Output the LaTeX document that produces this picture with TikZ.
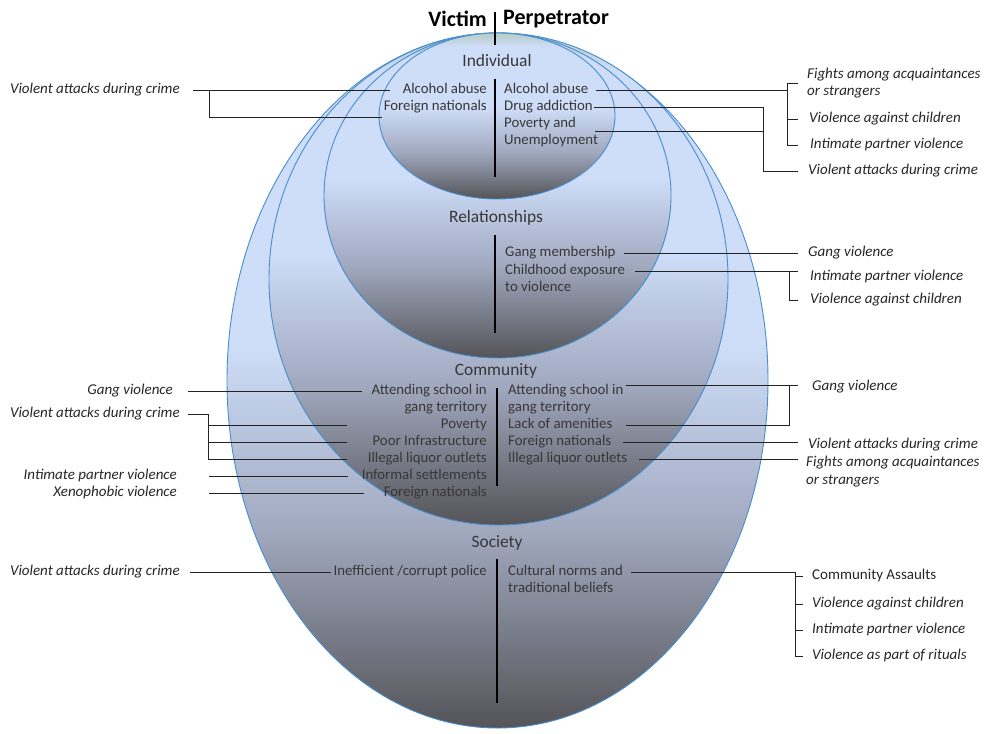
\documentclass[tikz,border=0pt]{standalone}
\usepackage{fontspec}
\setmainfont{Carlito}
\definecolor{sagetop}{RGB}{182,204,198}
\definecolor{skyfill}{RGB}{206,221,248}
\definecolor{midgrey}{RGB}{160,168,190}
\definecolor{deepgrey}{RGB}{84,84,88}
\definecolor{ringblue}{RGB}{70,142,205}
\definecolor{inkgrey}{RGB}{55,55,55}
\definecolor{wiregrey}{RGB}{35,35,35}
\pgfdeclareverticalshading{levelshade}{100bp}{color(0bp)=(deepgrey); color(25bp)=(deepgrey);
  color(39bp)=(midgrey); color(52.5bp)=(skyfill); color(71bp)=(skyfill);
  color(75bp)=(sagetop); color(100bp)=(sagetop)}
\newcommand{\causefont}{\fontsize{14.8}{17}\selectfont}
\newcommand{\harmfont}{\fontsize{15}{18}\selectfont\itshape}
\newcommand{\levelfont}{\fontsize{17.4}{20}\selectfont}
\newcommand{\headfont}{\fontsize{22}{26}\selectfont\bfseries}
\tikzset{
  layer/.style={draw=ringblue, line width=0.9pt, shading=levelshade},
  cause/.style={font=\causefont, text=inkgrey, inner sep=0pt,
    text height=10.5pt, text depth=3.2pt},
  victim/.style={cause, anchor=east},
  perp/.style={cause, anchor=west},
  harm/.style={font=\harmfont, text=black!85, inner sep=0pt,
    text height=10.5pt, text depth=3.2pt, anchor=west},
  harmleft/.style={harm, anchor=east},
  level/.style={font=\levelfont, text=inkgrey, inner sep=0pt},
  split/.style={line width=2.6pt, black},
  wire/.style={line width=0.8pt, draw=wiregrey},
}
\begin{document}
\begin{tikzpicture}[x=1pt, y=-1pt]
    \useasboundingbox (0,0) rectangle (984,733);
    %% NOTE:
    %% nested levels, outermost first
    \draw[layer] (497.5,380.5) ellipse (270.5pt and 347.5pt);
    \draw[layer] (498.5,279) ellipse (229.5pt and 246pt);
    \draw[layer] (497.5,195.5) ellipse (173.5pt and 162.5pt);
    \draw[layer] (497,116) ellipse (118pt and 83pt);
    %% header
    \node[font=\headfont, inner sep=0pt, anchor=east] (victim) at (487,19) {Victim};
    \node[font=\headfont, inner sep=0pt, anchor=west] (perpetrator) at (503,19) {Perpetrator};
    %% level names
    \node[level] (individual) at (497,61) {Individual};
    \node[level] (relationships) at (496,218) {Relationships};
    \node[level] (community) at (496,371) {Community};
    \node[level] (society) at (497,543) {Society};
    %% dividers
    \draw[split] (495,12) -- (495,45);
    \draw[split] (495,79) -- (495,177);
    \draw[split] (495,235) -- (495,333);
    \draw[split] (497,388) -- (497,486);
    \draw[split] (497,559) -- (497,703);
    %% columns for ticks and brackets
    \coordinate (tickR) at (798,0);
    \coordinate (spineA) at (209,0);
    \coordinate (spineB) at (787,0);
    \coordinate (spineC) at (763,0);
    \coordinate (spineD) at (789,0);
    \coordinate (spineE) at (208,0);
    \coordinate (reachE) at (347,0);
    \coordinate (spineG) at (795,0);

    %% individual
    \node[victim] (vInd1) at (487,90) {Alcohol abuse};
    \node[victim] (vInd2) at (487,107) {Foreign nationals};
    \node[perp] (pInd1) at (504,90) {Alcohol abuse};
    \node[perp] (pInd2) at (504,107) {Drug addiction};
    \node[perp] (pInd3) at (504,124) {Poverty and};
    \node[perp] (pInd3b) at (504,141) {Unemployment};
    \node[harmleft] (hInd0) at (180,90) {Violent attacks during crime};
    \node[harm] (hInd1) at (807,75) {Fights among acquaintances};
    \node[harm] (hInd1b) at (807,92) {or strangers};
    \node[harm] (hInd2) at (809,119) {Violence against children};
    \node[harm] (hInd3) at (810,145) {Intimate partner violence};
    \node[harm] (hInd4) at (808,171) {Violent attacks during crime};
    \draw[wire] ([xshift=13pt]hInd0.east) -- ([xshift=-13pt]vInd1.west);
    \draw[wire] (spineA |- hInd0.east) |- ([xshift=-2pt,yshift=-10pt]vInd2.west);
    \draw[wire] ([xshift=8pt]pInd1.east) -- (spineB |- pInd1.east);
    \draw[wire] ([xshift=-9pt,yshift=-8.5pt]hInd1.west) -| (spineB |- hInd3.west) -- ([xshift=-12pt]hInd3.west);
    \draw[wire] (spineB |- hInd2.west) -- ([xshift=-11pt]hInd2.west);
    \draw[wire] ([xshift=1pt]pInd2.east) -| (spineC |- hInd4.west) -- ([xshift=-10pt]hInd4.west);
    \draw[wire] ([xshift=-3pt,yshift=10pt]pInd3b.east) -| (spineC |- pInd2.east);

    %% relationships
    \node[perp] (pRel1) at (505,253) {Gang membership};
    \node[perp] (pRel2) at (505,271) {Childhood exposure};
    \node[perp] (pRel3) at (505,288) {to violence};
    \node[harm] (hRel1) at (808,253) {Gang violence};
    \node[harm] (hRel2) at (810,277) {Intimate partner violence};
    \node[harm] (hRel3) at (810,300) {Violence against children};
    \draw[wire] ([xshift=8pt]pRel1.east) -- (tickR |- pRel1.east);
    \draw[wire] ([xshift=10pt]pRel2.east) -- (tickR |- pRel2.east);
    \draw[wire] (spineD |- pRel2.east) |- ([xshift=-12pt]hRel3.west);

    %% community
    \node[victim] (vCom1) at (487,391) {Attending school in};
    \node[victim] (vCom1b) at (487,408) {gang territory};
    \node[victim] (vCom2) at (487,425) {Poverty};
    \node[victim] (vCom3) at (487,442) {Poor Infrastructure};
    \node[victim] (vCom4) at (487,459) {Illegal liquor outlets};
    \node[victim] (vCom5) at (487,476) {Informal settlements};
    \node[victim] (vCom6) at (487,493) {Foreign nationals};
    \node[perp] (pCom1) at (508,391) {Attending school in};
    \node[perp] (pCom1b) at (508,408) {gang territory};
    \node[perp] (pCom2) at (508,425) {Lack of amenities};
    \node[perp] (pCom3) at (508,442) {Foreign nationals};
    \node[perp] (pCom4) at (508,459) {Illegal liquor outlets};
    \node[harmleft] (hCom1) at (173,391) {Gang violence};
    \node[harmleft] (hCom2) at (180,414) {Violent attacks during crime};
    \node[harmleft] (hCom3) at (177,476) {Intimate partner violence};
    \node[harmleft] (hCom4) at (177,493) {Xenophobic violence};
    \node[harm] (hCom5) at (812,387) {Gang violence};
    \node[harm] (hCom6) at (808,445) {Violent attacks during crime};
    \node[harm] (hCom7) at (806,463) {Fights among acquaintances};
    \node[harm] (hCom7b) at (806,481) {or strangers};
    \draw[wire] ([xshift=15pt]hCom1.east) -- ([xshift=-9pt]vCom1.west);
    \draw[wire] ([xshift=8pt]hCom2.east) -| (spineE |- vCom4.west);
    \draw[wire] (spineE |- vCom2.west) -- (reachE |- vCom2.west);
    \draw[wire] (spineE |- vCom3.west) -- (reachE |- vCom3.west);
    \draw[wire] (spineE |- vCom4.west) -- (reachE |- vCom4.west);
    \draw[wire] ([xshift=32pt]hCom3.east) -- ([xshift=-14pt]vCom5.west);
    \draw[wire] ([xshift=32pt]hCom4.east) -- ([xshift=-20pt]vCom6.west);
    \coordinate (pCom1top) at ([xshift=2pt,yshift=6pt]pCom1.east);
    \draw[wire] (pCom1top) -- (tickR |- pCom1top);
    \draw[wire] ([xshift=13pt]pCom2.east) -| (spineD |- pCom1top);
    \draw[wire] ([xshift=12pt]pCom3.east) -- (tickR |- pCom3.east);
    \draw[wire] ([xshift=12pt]pCom4.east) -- (tickR |- pCom4.east);

    %% society
    \node[victim] (vSoc1) at (487,572) {Inefficient /corrupt police};
    \node[perp] (pSoc1) at (508,572) {Cultural norms and};
    \node[perp] (pSoc1b) at (508,589) {traditional beliefs};
    \node[harmleft] (hSoc0) at (180,572) {Violent attacks during crime};
    \node[harm, font=\fontsize{15}{18}\selectfont] (hSoc1) at (812,576) {Community Assaults};
    \node[harm] (hSoc2) at (812,604) {Violence against children};
    \node[harm] (hSoc3) at (812,630) {Intimate partner violence};
    \node[harm] (hSoc4) at (812,656) {Violence as part of rituals};
    \draw[wire] ([xshift=10pt]hSoc0.east) -- ([xshift=-2pt]vSoc1.west);
    \draw[wire] ([xshift=8pt]pSoc1.east) -- (spineG |- pSoc1.east) |- ([xshift=-9pt]hSoc4.west);
    \draw[wire] (spineG |- hSoc1.west) -- ([xshift=-9pt]hSoc1.west);
    \draw[wire] (spineG |- hSoc2.west) -- ([xshift=-9pt]hSoc2.west);
    \draw[wire] (spineG |- hSoc3.west) -- ([xshift=-9pt]hSoc3.west);
\end{tikzpicture}
\end{document}
